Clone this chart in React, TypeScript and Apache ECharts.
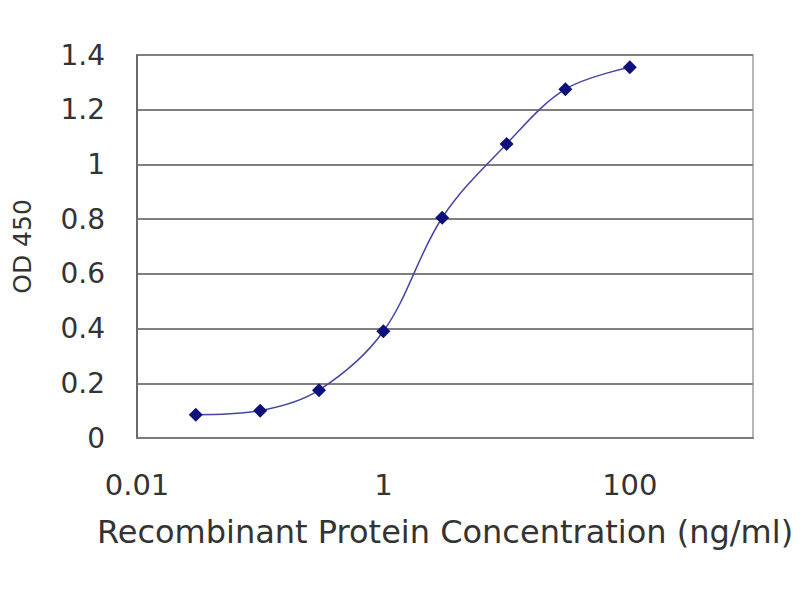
import React, { useEffect, useRef } from "react";
import * as echarts from "echarts";

const concentrations = [0.03, 0.1, 0.3, 1, 3, 10, 30, 100];
const odValues = [0.085, 0.1, 0.175, 0.39, 0.805, 1.075, 1.275, 1.355];
const yTicks = [0, 0.2, 0.4, 0.6, 0.8, 1, 1.2, 1.4];
const xLabels = ["0.01", "1", "100"];

export default function App() {
  const ref = useRef<HTMLDivElement>(null);
  useEffect(() => {
    if (!ref.current) return;
    const chart = echarts.init(ref.current, null, { renderer: "svg" });
    const font = "DejaVu Sans";
    chart.setOption({
      animation: false,
      backgroundColor: "#ffffff",
      grid: {
        left: 137,
        right: 47,
        top: 55,
        bottom: 162,
        show: true,
        borderColor: "#a0a0a0",
        borderWidth: 1.5,
        backgroundColor: "transparent",
      },
      xAxis: {
        type: "log",
        logBase: 10,
        min: 0.01,
        max: 1000,
        name: "Recombinant Protein Concentration (ng/ml)",
        nameLocation: "middle",
        nameGap: 78,
        nameTextStyle: { fontFamily: font, fontSize: 32, color: "#333" },
        axisLine: { show: true, lineStyle: { color: "#7a7a7a", width: 2 } },
        axisTick: { show: false },
        splitLine: { show: false },
        minorTick: { show: false },
        axisLabel: {
          margin: 32,
          fontFamily: font,
          fontSize: 29,
          color: "#333",
          showMaxLabel: true,
          formatter: (v: number) => {
            const s = v < 1 ? v.toFixed(2) : String(Math.round(v));
            return xLabels.indexOf(s) >= 0 ? s : "";
          },
        },
      },
      yAxis: {
        type: "value",
        min: 0,
        max: 1.4,
        interval: 0.2,
        name: "OD 450",
        nameLocation: "middle",
        nameRotate: 90,
        nameGap: 102,
        nameTextStyle: { fontFamily: font, fontSize: 25, color: "#333" },
        axisLine: { show: true, lineStyle: { color: "#6a6a6a", width: 2 } },
        axisTick: { show: false },
        splitLine: { show: true, lineStyle: { color: "#7f7f7f", width: 2 } },
        axisLabel: {
          margin: 32,
          fontFamily: font,
          fontSize: 28,
          color: "#333",
          formatter: (v: number) => {
            const t = yTicks.find((x) => Math.abs(x - v) < 1e-6);
            return t === undefined ? "" : String(t);
          },
        },
      },
      series: [
        {
          type: "line",
          data: concentrations.map((c, i) => [c, odValues[i]]),
          smooth: 0.35,
          symbol: "diamond",
          symbolSize: 14,
          lineStyle: { color: "#4545a5", width: 1.5 },
          itemStyle: { color: "#10107a" },
        },
      ],
    });
    return () => chart.dispose();
  }, []);
  return (
    <div
      ref={ref}
      style={{ position: "absolute", left: 0, top: 0, width: 800, height: 600 }}
    />
  );
}
